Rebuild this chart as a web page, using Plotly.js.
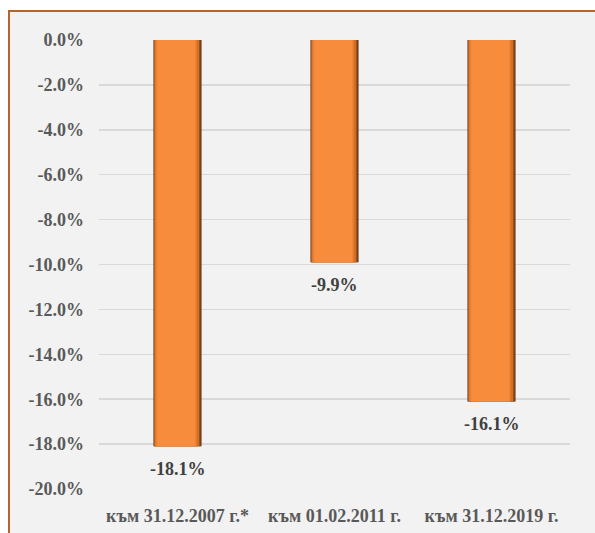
<!DOCTYPE html>
<html>
<head>
<meta charset="utf-8">
<script src="https://cdn.plot.ly/plotly-3.0.1.min.js"></script>
<style>
  html, body { margin: 0; padding: 0; background: #ffffff; }
  #frame { position: absolute; left: 8px; top: 10px; width: 620px; height: 560px;
           background: #F2F2F2; border: 2px solid #B5652C; box-sizing: border-box; }
  #chart { position: absolute; left: 0; top: 0; width: 595px; height: 533px; }
</style>
</head>
<body>
<div id="frame"></div>
<div id="chart"></div>
<script>
const categories = ["към 31.12.2007 г.*", "към 01.02.2011 г.", "към 31.12.2019 г."];
const values = [-18.1, -9.9, -16.1];
const valueLabels = ["-18.1%", "-9.9%", "-16.1%"];
const yTickVals = [0, -2, -4, -6, -8, -10, -12, -14, -16, -18, -20];
const yTickText = ["0.0%", "-2.0%", "-4.0%", "-6.0%", "-8.0%", "-10.0%", "-12.0%", "-14.0%", "-16.0%", "-18.0%", "-20.0%"];

const serif = "'Liberation Serif', 'Times New Roman', serif";

const layers = [
  { width: 0.306, offset: -0.153, color: '#4E2C12' },
  { width: 0.296, offset: -0.149, color: '#9A5018' },
  { width: 0.284, offset: -0.147, color: '#D06F25' },
  { width: 0.262, offset: -0.140, color: '#EE8234' },
  { width: 0.240, offset: -0.128, color: '#F78C3D' }
];

const traces = layers.map(l => ({
  type: 'bar', x: categories, y: values, width: l.width, offset: l.offset,
  marker: { color: l.color }, hoverinfo: 'skip'
}));

const annotations = categories.map((c, i) => ({
  x: c, y: values[i], xref: 'x', yref: 'y', text: valueLabels[i],
  showarrow: false, yanchor: 'top', yshift: -11,
  font: { family: serif, size: 18, color: '#404040', weight: 'bold' }
}));

const layout = {
  width: 595, height: 533,
  margin: { l: 99, r: 25, t: 40, b: 44 },
  paper_bgcolor: 'rgba(0,0,0,0)',
  plot_bgcolor: 'rgba(0,0,0,0)',
  barmode: 'overlay',
  showlegend: false,
  hovermode: false,
  xaxis: {
    type: 'category',
    showgrid: false, zeroline: false, showline: false,
    ticks: '', ticklabelstandoff: 14,
    tickfont: { family: serif, size: 18, color: '#595959', weight: 'bold' }
  },
  yaxis: {
    range: [-20, 0],
    tickmode: 'array', tickvals: yTickVals, ticktext: yTickText,
    showgrid: true, gridcolor: '#D9D9D9', gridwidth: 1.5,
    zeroline: false, showline: false, ticks: '', ticklabelstandoff: 14,
    tickfont: { family: serif, size: 18, color: '#595959', weight: 'bold' }
  },
  annotations: annotations
};

Plotly.newPlot('chart', traces, layout, { displayModeBar: false, staticPlot: true });
</script>
</body>
</html>
